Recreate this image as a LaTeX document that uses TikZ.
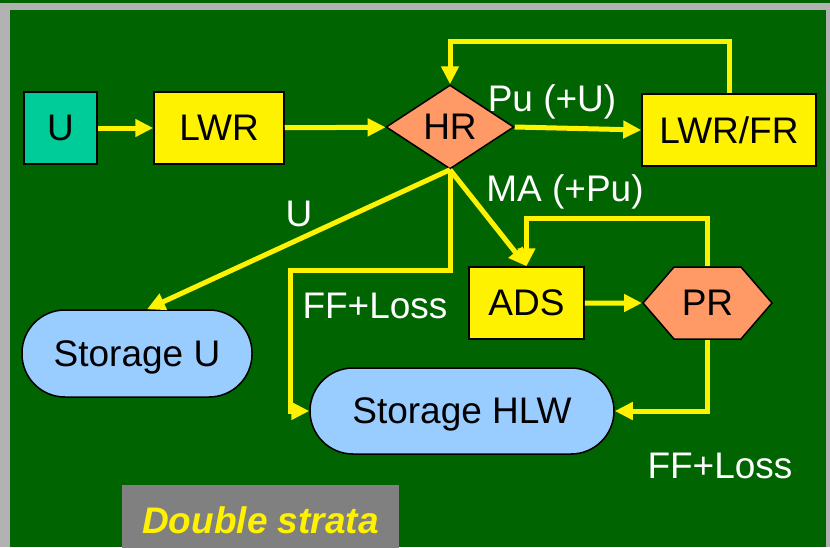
\documentclass[tikz,border=0pt]{standalone}
\usepackage{fontspec}
\setmainfont{Liberation Sans}
\usepackage{tikz}
\usetikzlibrary{arrows.meta}
\usetikzlibrary{shapes.geometric, shapes.symbols}
\definecolor{bggreen}{RGB}{0,100,0}
\definecolor{framegray}{RGB}{178,178,178}
\definecolor{uteal}{RGB}{0,204,153}
\definecolor{salmon}{RGB}{255,153,102}
\definecolor{storeblue}{RGB}{153,204,255}
\definecolor{stratagray}{RGB}{128,128,128}

\begin{document}
\begin{tikzpicture}[x=0.5pt, y=-0.5pt,
    font=\fontsize{18.5}{22}\selectfont,
    flow/.style={draw=yellow, line width=2.5pt, -{Triangle[length=9pt, width=8.5pt]}},
    plant/.style={draw=black, line width=0.75pt, fill=yellow, inner sep=0pt, minimum height=36pt},
    reproc/.style={draw=black, line width=0.75pt, fill=salmon, inner sep=0pt},
    store/.style={draw=black, line width=0.75pt, fill=storeblue, inner sep=0pt, text depth=0pt, rounded corners=21.5pt},
    lbl/.style={text=white, inner sep=0pt}]
            \useasboundingbox (0,0) rectangle (830,547);
            \fill[bggreen] (0,0) rectangle (830,547);
            \fill[framegray] (0,3) rectangle (830,10);
            \fill[framegray] (0,3) rectangle (10,547);
            \fill[framegray] (826,3) rectangle (830,547);

            \node[draw=black, line width=0.75pt, fill=uteal, inner sep=0pt, minimum width=36.5pt, minimum height=36pt] (u) at (60.5,128) {U};
            \node[plant, minimum width=65pt] (lwr) at (219,128) {LWR};
            \node[reproc, diamond, aspect=1.52, minimum width=64pt, minimum height=42pt] (hr) at (450,127) {HR};
            \node[plant, minimum width=87pt] (lwrfr) at (729,130) {LWR/FR};
            \node[plant, minimum width=57.5pt] (ads) at (526.5,303) {ADS};
            \node[reproc, signal, signal to=east and west, signal from=nowhere, signal pointer angle=98.5, minimum width=64.5pt, minimum height=36pt] (pr) at (707.5,303) {PR};
            \node[store, minimum width=115pt, minimum height=43.5pt] (storu) at (137,353.5) {Storage U};
            \node[store, minimum width=152pt, minimum height=43pt] (storhlw) at (462,411) {Storage HLW};
            \node[fill=stratagray, text=yellow, inner sep=0pt, minimum width=138.5pt, minimum height=35pt, font=\fontsize{18.5}{22}\selectfont\bfseries\itshape] (strata) at (260.5,520) {Double strata};

            \node[lbl] (pulbl) at (552,102) {Pu (+U)};
            \node[lbl] (malbl) at (565,192) {MA (+Pu)};
            \node[lbl] (ulbl) at (299,214) {U};
            \node[lbl] (fflbl) at (375,306) {FF+Loss};
            \node[lbl] (fflbltwo) at (720,466) {FF+Loss};

            \coordinate (ffbend) at (290,270);

            \draw[flow] (u) -- (lwr);
            \draw[flow] (lwr) -- (hr);
            \draw[flow] (hr.east) -- (lwrfr.west);
            \draw[flow] (lwrfr.north) -- ++(0,-52) -| (hr.north);
            \draw[flow] (hr.south) -- ([xshift=5pt]storu.north);
            \draw[flow] (hr.south) |- (ffbend) |- (storhlw.west);
            \draw[flow] (hr.south) -- (ads.north);
            \draw[flow] (ads) -- (pr);
            \draw[flow] (pr.north) -- ++(0,-48) -| (ads.north);
            \draw[flow] (pr.south) |- (storhlw.east);
        \end{tikzpicture}
\end{document}
